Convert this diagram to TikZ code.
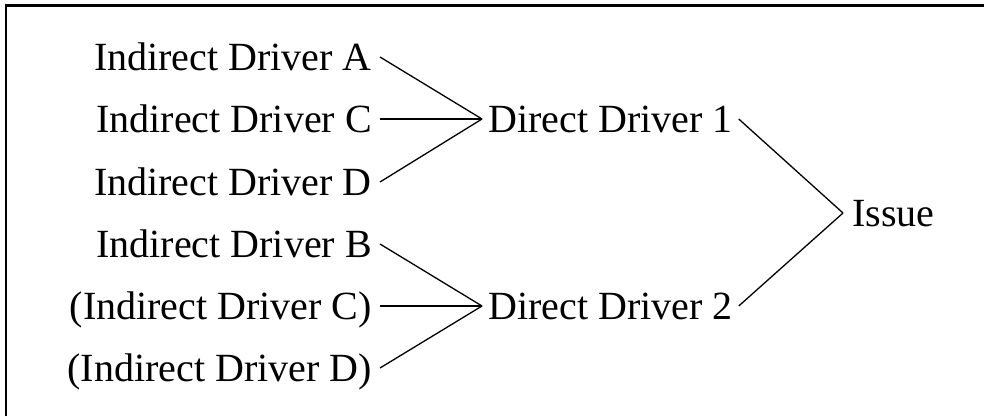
\documentclass[tikz,border=0pt]{standalone}
\usepackage{fontspec}
\setmainfont{Liberation Serif}
\begin{document}
\begin{tikzpicture}[x=1pt,y=-1pt,
  lbl/.style={inner xsep=8pt, inner ysep=0pt, text height=27pt, text depth=0pt,
    font=\fontsize{40}{48}\selectfont},
  link/.style={line width=1.3pt},
  frame/.style={line width=2.2pt}]
\useasboundingbox (0,0) rectangle (984,416);
\draw[frame] (6,416) -- (6,5.5) -- (984,5.5);
% indirect drivers
\node[lbl, anchor=east] (ia) at (380,57) {Indirect Driver A};
\node[lbl, anchor=east] (ic) at (380,119) {Indirect Driver C};
\node[lbl, anchor=east] (id) at (380,182) {Indirect Driver D};
\node[lbl, anchor=east] (ib) at (380,244) {Indirect Driver B};
\node[lbl, anchor=east] (ic2) at (380,306) {(Indirect Driver C)};
\node[lbl, anchor=east] (id2) at (380,368) {(Indirect Driver D)};
% direct drivers
\node[lbl, anchor=west, inner xsep=6pt] (d1) at (482,119) {Direct Driver 1};
\node[lbl, anchor=west, inner xsep=6pt] (d2) at (482,306) {Direct Driver 2};
% issue
\node[lbl, anchor=west, inner xsep=9pt] (is) at (843,213) {Issue};
% connectors
\draw[link] (ia.east) -- (d1.west);
\draw[link] (ic.east) -- (d1.west);
\draw[link] (id.east) -- (d1.west);
\draw[link] (ib.east) -- (d2.west);
\draw[link] (ic2.east) -- (d2.west);
\draw[link] (id2.east) -- (d2.west);
\draw[link] (d1.east) -- (is.west);
\draw[link] (d2.east) -- (is.west);
\end{tikzpicture}
\end{document}
